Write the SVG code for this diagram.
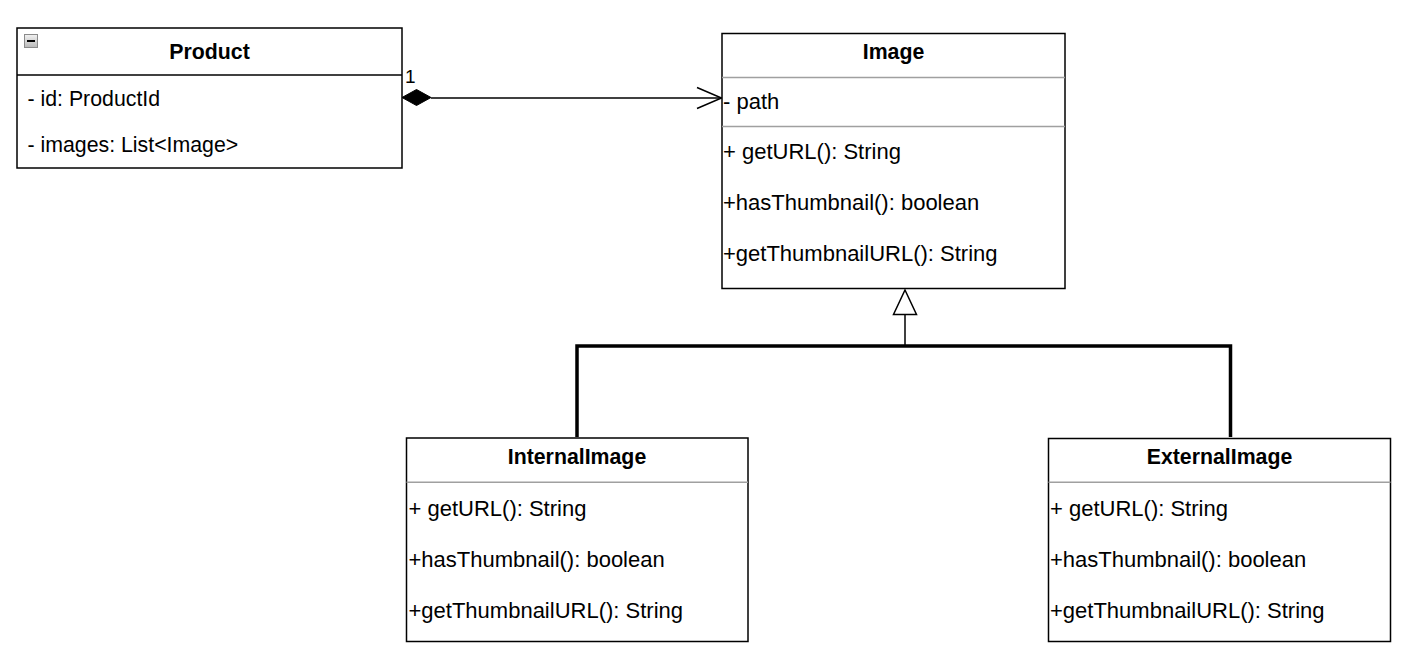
<svg xmlns="http://www.w3.org/2000/svg" width="1424" height="658" viewBox="0 0 1424 658">
<defs>
<linearGradient id="ig" x1="0" y1="0" x2="0" y2="1">
<stop offset="0" stop-color="#f2f2f2"/>
<stop offset="1" stop-color="#b8b8b8"/>
</linearGradient>
<style>
.box{fill:#fff;stroke:#000;stroke-width:1.5}
.sep{stroke:#a0a0a0;stroke-width:1.5}
.sepd{stroke:#000;stroke-width:1.5}
.t{font-family:"Liberation Sans",Arial,sans-serif;font-size:21.3px;fill:#000}
.m{font-size:22px}
.b{font-weight:bold;text-anchor:middle}
.ln{fill:none;stroke:#000;stroke-width:1.5}
.bus{fill:none;stroke:#000;stroke-width:3.5}
</style>
</defs>
<rect width="1424" height="658" fill="#fff"/>

<g id="connectors">
<path class="ln" d="M431,98 L721,98"/>
<path d="M402,97.5 L416.5,89.5 L431,97.5 L416.5,105.5 Z" fill="#000" stroke="#000" stroke-width="1"/>
<path class="ln" d="M697,87.5 L721.5,98 L697,108.5"/>
<text class="t" x="405" y="83" style="font-size:19px">1</text>
<path class="ln" d="M905,314.5 L905,346"/>
<path d="M905,290 L916.5,314.5 L893.5,314.5 Z" fill="#fff" stroke="#000" stroke-width="1.5"/>
<path class="bus" d="M577,437 L577,346 L1230.5,346 L1230.5,437"/>
</g>

<g id="product">
<rect class="box" x="17" y="28" width="385" height="140"/>
<line class="sepd" x1="17" y1="75" x2="402" y2="75"/>
<rect x="24.5" y="34.5" width="13" height="13" fill="url(#ig)" stroke="#8a8a8a" stroke-width="1"/>
<line x1="27" y1="41" x2="35" y2="41" stroke="#000" stroke-width="2"/>
<text class="t b" x="209.5" y="59">Product</text>
<text class="t" x="27.5" y="106">- id: ProductId</text>
<text class="t" x="27.5" y="152">- images: List&lt;Image&gt;</text>
</g>

<g id="image">
<rect class="box" x="722" y="33.5" width="343" height="255"/>
<line class="sep" x1="722" y1="77.5" x2="1065" y2="77.5"/>
<line class="sep" x1="722" y1="126.5" x2="1065" y2="126.5"/>
<text class="t b" x="893.5" y="59">Image</text>
<text class="t m" x="723" y="109">- path</text>
<text class="t m" x="723" y="159">+ getURL(): String</text>
<text class="t m" x="723" y="210">+hasThumbnail(): boolean</text>
<text class="t m" x="723" y="261">+getThumbnailURL(): String</text>
</g>

<g id="internalimage">
<rect class="box" x="406.5" y="438" width="341.5" height="203.5"/>
<line class="sep" x1="406.5" y1="482.3" x2="748" y2="482.3"/>
<text class="t b" x="577" y="464">InternalImage</text>
<text class="t m" x="408.5" y="516">+ getURL(): String</text>
<text class="t m" x="408.5" y="567">+hasThumbnail(): boolean</text>
<text class="t m" x="408.5" y="618">+getThumbnailURL(): String</text>
</g>

<g id="externalimage">
<rect class="box" x="1048.5" y="438.5" width="342" height="203"/>
<line class="sep" x1="1048.5" y1="482.3" x2="1390.5" y2="482.3"/>
<text class="t b" x="1219.5" y="464">ExternalImage</text>
<text class="t m" x="1050" y="516">+ getURL(): String</text>
<text class="t m" x="1050" y="567">+hasThumbnail(): boolean</text>
<text class="t m" x="1050" y="618">+getThumbnailURL(): String</text>
</g>
</svg>
